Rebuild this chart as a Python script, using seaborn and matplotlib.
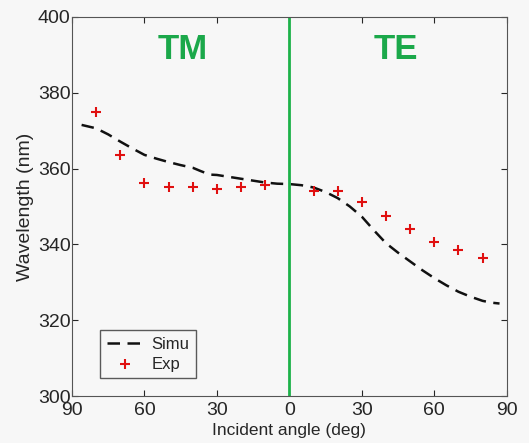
import numpy as np
import pandas as pd
import seaborn as sns
import matplotlib.pyplot as plt

# simulated curve (negative angle = TM side, positive = TE side)
simu_angle = [-86, -80, -75, -70, -65, -60, -55, -50, -45, -40, -37, -33, -30, -25, -20, -15, -10, -5,
              0, 5, 10, 15, 20, 25, 30, 35, 40, 45, 50, 55, 60, 65, 70, 75, 80, 84, 87]
simu_wl = [371.5, 370.6, 369.0, 367.1, 365.3, 363.6, 362.6, 361.7, 360.9, 360.2, 359.4, 358.4, 358.3, 357.8,
           357.3, 356.8, 356.3, 356.0, 355.9, 355.6, 355.0, 353.8, 352.2, 350.0, 347.3, 343.7, 340.3, 337.8,
           335.5, 333.2, 331.1, 329.2, 327.5, 326.2, 325.1, 324.6, 324.4]

exp_angle = [-80, -70, -60, -50, -40, -30, -20, -10, 10, 20, 30, 40, 50, 60, 70, 80]
exp_wl = [375.0, 363.6, 356.1, 355.1, 355.1, 354.5, 355.2, 355.6,
          354.2, 354.2, 351.1, 347.6, 344.0, 340.6, 338.5, 336.5]

xticks = [-90, -60, -30, 0, 30, 60, 90]
xticklabels = ['90', '60', '30', '0', '30', '60', '90']
yticks = [300, 320, 340, 360, 380, 400]

simu = pd.DataFrame({'angle': simu_angle, 'wl': simu_wl})
exp = pd.DataFrame({'angle': exp_angle, 'wl': exp_wl})

sns.set_style("ticks")
plt.rcParams['font.family'] = ['Liberation Sans', 'DejaVu Sans']
bg = '#f7f7f7'

fig = plt.figure(figsize=(5.29, 4.43), dpi=100, facecolor=bg)
ax = fig.add_axes([0.136, 0.106, 0.822, 0.856])
ax.set_facecolor(bg)

sns.lineplot(data=simu, x='angle', y='wl', ax=ax, color='#111111', lw=1.8,
             linestyle=(0, (5, 3)), label='Simu')
sns.scatterplot(data=exp, x='angle', y='wl', ax=ax, color='#e01010', marker='+',
                s=60, linewidth=1.5, label='Exp', zorder=3)
ax.axvline(0, color='#1db24a', lw=2)

ax.text(-44, 391.5, 'TM', color='#1ba84a', fontsize=25, fontweight='bold', ha='center', va='center')
ax.text(44, 391.5, 'TE', color='#1ba84a', fontsize=25, fontweight='bold', ha='center', va='center')

ax.set_xlim(-90, 90)
ax.set_ylim(300, 400)
ax.set_xticks(xticks)
ax.set_xticklabels(xticklabels)
ax.set_yticks(yticks)
ax.tick_params(direction='in', length=4, labelsize=14, top=True, right=True)
ax.tick_params(axis='y', pad=1)
ax.tick_params(axis='x', pad=4)
ax.set_xlabel('Incident angle (deg)', fontsize=12.5, labelpad=3)
ax.set_ylabel('Wavelength (nm)', fontsize=14, labelpad=3)
for s in ax.spines.values():
    s.set_color('#555555')
    s.set_visible(True)

leg = ax.legend(loc='lower left', bbox_to_anchor=(0.045, 0.025), fontsize=12, frameon=True,
                fancybox=False, edgecolor='#333333', facecolor=bg, handlelength=2.2,
                borderpad=0.4, labelspacing=0.3, handletextpad=0.5)
leg.get_frame().set_linewidth(1)

fig.savefig('out.png', dpi=100, facecolor=bg)
